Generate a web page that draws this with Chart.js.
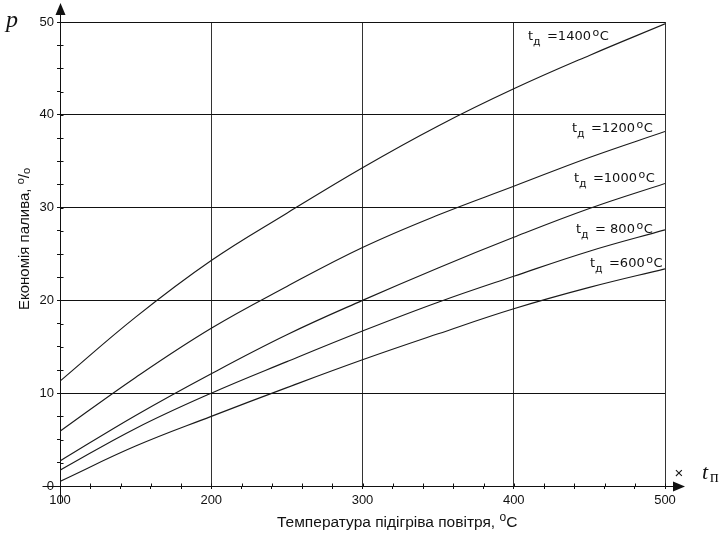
<!DOCTYPE html>
<html><head><meta charset="utf-8">
<script src="https://cdn.jsdelivr.net/npm/chart.js@4/dist/chart.umd.min.js"></script>
<style>html,body{margin:0;padding:0;background:#fff}#wrap{width:719px;height:535px}</style>
</head><body><div id="wrap"><canvas id="c" width="719" height="535"></canvas></div>
<script>
// Air preheat temperature, °C
const airTemp = [100, 150, 200, 250, 300, 350, 400, 450, 500];
// Fuel saving, % for each flue gas temperature
const saving1400 = [11.3, 18.2, 24.3, 29.4, 34.3, 38.8, 42.8, 46.4, 49.8];
const saving1200 = [5.9, 11.7, 17.0, 21.5, 25.7, 29.2, 32.3, 35.4, 38.2];
const saving1000 = [2.7, 7.6, 12.1, 16.3, 20.0, 23.5, 26.8, 29.9, 32.6];
const saving800  = [1.7, 6.2, 10.0, 13.4, 16.7, 19.8, 22.6, 25.3, 27.6];
const saving600  = [0.5, 4.3, 7.5, 10.6, 13.6, 16.4, 19.1, 21.4, 23.4];
const seriesLabels = ['=1400', '=1200', '=1000', '= 800', '=600'];
const xTickLabels = [100, 200, 300, 400, 500];
const yTickLabels = [0, 10, 20, 30, 40, 50];

const allSeries = [saving1400, saving1200, saving1000, saving800, saving600];
const datasets = allSeries.map((s, i) => ({
  label: seriesLabels[i],
  data: airTemp.map((x, j) => ({x: x, y: s[j]})),
  borderColor: '#1a1a1a', borderWidth: 1.15, pointRadius: 0,
  tension: 0.4, fill: false
}));

// label anchors in data coordinates (left edge of "t", baseline)
const labelAnchors = [
  {x: 409.4, y: 48.06}, {x: 438.5, y: 38.15}, {x: 439.8, y: 32.76},
  {x: 441.2, y: 27.26}, {x: 450.4, y: 23.6}
];

const decor = {
  id: 'decor',
  afterDraw(chart) {
    const ctx = chart.ctx, xs = chart.scales.x, ys = chart.scales.y;
    const L = Math.round(xs.left) + 0.5, R = Math.round(xs.right), T = Math.round(ys.top), B = Math.round(ys.bottom) + 0.5;
    ctx.save();
    ctx.strokeStyle = '#111'; ctx.fillStyle = '#111'; ctx.lineWidth = 1;
    // axis extensions
    ctx.beginPath();
    ctx.moveTo(L, T - 8); ctx.lineTo(L, T);
    ctx.moveTo(L, B); ctx.lineTo(L, B + 17);
    ctx.moveTo(L - 18, B); ctx.lineTo(L, B);
    ctx.moveTo(R, B); ctx.lineTo(R + 9, B);
    ctx.stroke();
    // arrows
    ctx.beginPath(); ctx.moveTo(L - 5, T - 7); ctx.lineTo(L + 5, T - 7); ctx.lineTo(L, T - 19); ctx.closePath(); ctx.fill();
    ctx.beginPath(); ctx.moveTo(R + 8, B - 5); ctx.lineTo(R + 8, B + 5); ctx.lineTo(R + 20, B); ctx.closePath(); ctx.fill();
    // inner parts of minor ticks
    ctx.beginPath();
    for (let v = 0; v <= 50; v += 2.5) {
      const p = Math.round(ys.getPixelForValue(v)) + 0.5;
      ctx.moveTo(L, p); ctx.lineTo(L + 3, p);
    }
    for (let v = 100; v <= 500; v += 20) {
      const p = Math.round(xs.getPixelForValue(v)) + 0.5;
      ctx.moveTo(p, B); ctx.lineTo(p, B - 3);
    }
    ctx.stroke();
    // curve labels
    ctx.textBaseline = 'alphabetic'; ctx.textAlign = 'left';
    labelAnchors.forEach((a, i) => {
      const x = xs.getPixelForValue(a.x), y = ys.getPixelForValue(a.y);
      ctx.font = '13px "DejaVu Sans"'; ctx.fillText('t', x, y);
      ctx.font = '11px "DejaVu Sans"'; ctx.fillText('д', x + 5, y + 5);
      ctx.font = '13px "DejaVu Sans"';
      let xx = x + 19;
      ctx.fillText(seriesLabels[i], xx, y); xx += ctx.measureText(seriesLabels[i]).width + 1.5;
      ctx.font = '11px "DejaVu Sans"'; ctx.fillText('o', xx, y - 4); xx += ctx.measureText('o').width + 0.5;
      ctx.font = '13px "DejaVu Sans"'; ctx.fillText('C', xx, y);
    });
    // x title
    ctx.font = '15.5px "Liberation Sans"';
    let tx = 277; const ty = 527;
    const xt = 'Температура підігріва повітря, ';
    ctx.fillText(xt, tx, ty); tx += ctx.measureText(xt).width;
    ctx.font = '12px "Liberation Sans"'; ctx.fillText('o', tx, ty - 6); tx += ctx.measureText('o').width;
    ctx.font = '15.5px "Liberation Sans"'; ctx.fillText('C', tx, ty);
    // y title (rotated)
    ctx.save();
    ctx.translate(29, 0); ctx.rotate(-Math.PI / 2);
    const yt = 'Економія палива, ';
    ctx.font = '15px "Liberation Sans"';
    const w1 = ctx.measureText(yt).width;
    ctx.font = '11px "Liberation Sans"'; const wo = ctx.measureText('o').width;
    ctx.font = '15px "Liberation Sans"'; const ws = ctx.measureText('/').width;
    const total = w1 + wo + ws + wo;
    let ry = -239 - total / 2;
    ctx.fillText(yt, ry, 0); ry += w1;
    ctx.font = '11px "Liberation Sans"'; ctx.fillText('o', ry, -5); ry += wo;
    ctx.font = '15px "Liberation Sans"'; ctx.fillText('/', ry, 0); ry += ws;
    ctx.font = '11px "Liberation Sans"'; ctx.fillText('o', ry, 1);
    ctx.restore();
    // axis symbols
    ctx.font = 'italic 24px "Liberation Serif"'; ctx.fillText('p', 6, 27);
    ctx.font = 'italic 22px "Liberation Serif"'; ctx.fillText('t', 702, 479);
    ctx.font = '16px "Liberation Serif"'; ctx.fillText('п', 710, 482);
    ctx.font = '15px "Liberation Sans"'; ctx.textAlign = 'center'; ctx.fillText('×', 679, 478);
    ctx.restore();
  }
};

new Chart(document.getElementById('c'), {
  type: 'line',
  data: {datasets: datasets},
  options: {
    responsive: false, animation: false,
    layout: {padding: {top: 22, right: 54, left: 0, bottom: 0}},
    plugins: {legend: {display: false}, tooltip: {enabled: false}},
    scales: {
      x: {
        type: 'linear', min: 100, max: 500,
        afterFit: s => { s.height = 49; },
        ticks: {stepSize: 20, autoSkip: false, maxRotation: 0, padding: 4, color: '#111',
          font: {family: 'Liberation Sans', size: 13},
          callback: v => xTickLabels.includes(v) ? String(v) : ''},
        grid: {color: c => (c.tick && c.tick.value % 100 === 0) ? '#333' : 'rgba(0,0,0,0)',
          tickColor: '#111', tickLength: 3},
        border: {color: '#111', width: 1}
      },
      y: {
        min: 0, max: 50,
        afterFit: s => { s.width = 60; },
        ticks: {stepSize: 2.5, autoSkip: false, padding: 3, color: '#111',
          font: {family: 'Liberation Sans', size: 13},
          callback: v => yTickLabels.includes(v) ? String(v) : ''},
        grid: {color: c => (c.tick && c.tick.value % 10 === 0) ? '#111' : 'rgba(0,0,0,0)',
          tickColor: '#111', tickLength: 3},
        border: {color: '#111', width: 1}
      }
    }
  },
  plugins: [decor]
});
</script>
</body></html>
